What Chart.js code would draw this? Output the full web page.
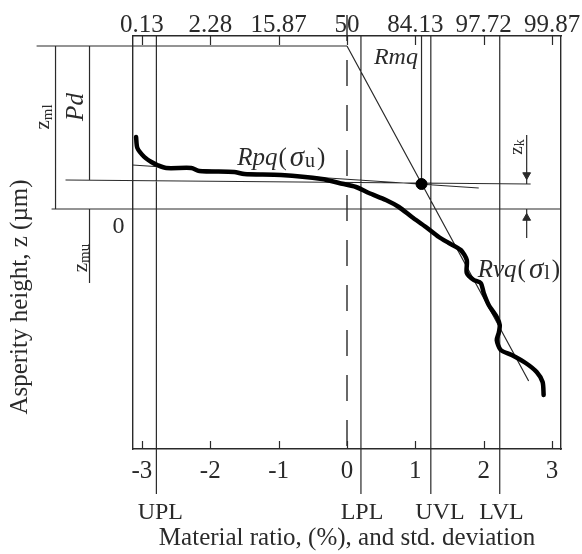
<!DOCTYPE html>
<html>
<head>
<meta charset="utf-8">
<script src="https://cdn.jsdelivr.net/npm/chart.js@4.4.1/dist/chart.umd.min.js"></script>
<style>
  html, body { margin: 0; padding: 0; background: #fff; }
</style>
</head>
<body>
<canvas id="mrChart" width="582" height="554"></canvas>
<script>
// std. deviation axis and matching material ratio (%) on top
const sdTicks = [-3, -2, -1, 0, 1, 2, 3];
const pctLabels = ['0.13', '2.28', '15.87', '50', '84.13', '97.72', '99.87'];

// bearing curve (x: std. deviation, z: height)
const curveX = [-3.085, -3.066, -2.964, -2.861, -2.774, -2.642, -2.277, -2.161, -1.650, -1.504,
  -0.964, -0.365, -0.117, 0.131, 0.321, 0.569, 0.759, 0.949, 1.153, 1.343,
  1.489, 1.664, 1.752, 1.752, 1.854, 1.956, 2.000, 2.073, 2.190, 2.234,
  2.219, 2.190, 2.248, 2.409, 2.613, 2.774, 2.861, 2.876];
const curveZ = [7.2, 6.1, 5.2, 4.7, 4.4, 4.1, 4.1, 3.8, 3.7, 3.5,
  3.4, 3.0, 2.6, 2.2, 1.6, 0.9, 0.2, -0.8, -1.8, -2.8,
  -3.4, -4.1, -5.1, -6.4, -7.1, -7.4, -8.4, -9.6, -10.8, -11.6,
  -12.4, -13.1, -14.1, -14.6, -15.4, -16.3, -17.3, -18.6];

// limit lines UPL, LPL, UVL, LVL
const limitNames = ['UPL', 'LPL', 'UVL', 'LVL'];
const limitX = [-2.788, 0.204, 1.226, 2.234];
const limitLabelX = [-2.73, 0.22, 1.36, 2.26];

// intersection of the two fitted lines
const knee = { x: 1.09, y: 2.5 };
const rmqLine = [{ x: 0, y: 16.3 }, { x: 2.657, y: -17.2 }];
const rpqLine = [{ x: -3.139, y: 4.4 }, { x: 1.927, y: 2.1 }];
const kneeLevel = [{ x: -4.117, y: 2.9 }, { x: 2.686, y: 2.5 }];
const zeroLine = [{ x: -4.321, y: 0 }, { x: 3.13, y: 0 }];
const topLine = [{ x: -4.54, y: 16.3 }, { x: 0, y: 16.3 }];
const kneeDrop = [{ x: 1.09, y: 17.3 }, { x: 1.09, y: 2.5 }];
const medianLine = [{ x: 0, y: 19.4 }, { x: 0, y: -24 }];

// dimension arrows (shaft ends) and their heads
const arrowShafts = [
  [{ x: -4.263, y: 16.3 }, { x: -4.263, y: 0 }],
  [{ x: -3.766, y: 16.3 }, { x: -3.766, y: 2.9 }],
  [{ x: -3.766, y: 0 }, { x: -3.766, y: -7.4 }],
  [{ x: 2.628, y: 7.4 }, { x: 2.628, y: 2.5 }],
  [{ x: 2.628, y: 0 }, { x: 2.628, y: -2.9 }]
];
const arrowHeads = [
  { x: -4.263, y: 15.1, r: 0 }, { x: -4.263, y: 1.2, r: 180 },
  { x: -3.766, y: 3.8, r: 180 }, { x: -3.766, y: -1.0, r: 0 },
  { x: 2.628, y: 3.4, r: 180 }, { x: 2.628, y: -0.9, r: 0 }
];

const serif = '"Liberation Serif", "Times New Roman", serif';
const ink = '#2a2a2a';

function joinSegments(segs) {
  const out = [];
  segs.forEach((s, i) => {
    if (i > 0) out.push({ x: s[0].x, y: null });
    out.push(s[0], s[1]);
  });
  return out;
}

const thinSegs = [rmqLine, rpqLine, kneeLevel, zeroLine, topLine, kneeDrop]
  .concat(limitX.map(v => [{ x: v, y: 17.3 }, { x: v, y: -28.5 }]))
  .concat(arrowShafts);

// text notes placed in data coordinates; parts = [text, style, size, dy, dx]
const notes = [
  { x: 0.715, y: 15.1, rot: 0, align: 'center', parts: [['Rmq', 'italic', 24, 0, 0]] },
  { x: -1.606, y: 5.1, rot: 0, align: 'left', parts: [['Rpq', 'italic', 25, 0, 0], ['(', '', 25, 0, 1], ['σ', 'italic', 29, 0, 3], ['u', '', 20, 4, 1], [')', '', 25, 0, 2]] },
  { x: 1.912, y: -6.1, rot: 0, align: 'left', parts: [['Rvq', 'italic', 25, 0, 0], ['(', '', 25, 0, 1], ['σ', 'italic', 29, 0, 3], ['l', '', 20, 4, 1], [')', '', 25, 0, 2]] },
  { x: -4.438, y: 9.2, rot: -90, align: 'center', parts: [['z', '', 21, 0, 0], ['ml', '', 15, 4, 0]] },
  { x: -3.956, y: 10.2, rot: -90, align: 'center', parts: [['Pd', 'italic', 25, 0, 0]] },
  { x: -3.883, y: -4.9, rot: -90, align: 'center', parts: [['z', '', 21, 0, 0], ['mu', '', 15, 4, 0]] },
  { x: -3.343, y: -1.8, rot: 0, align: 'center', parts: [['0', '', 24, 0, 0]] },
  { x: 2.482, y: 6.2, rot: -90, align: 'center', parts: [['z', '', 19, 0, 0], ['k', '', 14, 4, 0]] },
  { x: -4.774, y: -8.8, rot: -90, align: 'center', parts: [['Asperity height, z (µm)', '', 25, 0, 0]] }
].concat(limitNames.map((n, i) => ({ x: limitLabelX[i], y: -30.4, rot: 0, align: 'center', parts: [[n, '', 24, 0, 0]] })));

const notePlugin = {
  id: 'notes',
  afterDraw(chart) {
    const { ctx, scales: { x, y }, chartArea } = chart;
    ctx.save();
    // inward tick marks on bottom and top axes
    ctx.strokeStyle = ink;
    ctx.lineWidth = 1.2;
    sdTicks.forEach(v => {
      const px = Math.round(x.getPixelForValue(v)) + 0.5;
      ctx.beginPath();
      ctx.moveTo(px, chartArea.bottom);
      ctx.lineTo(px, chartArea.bottom - 8);
      ctx.moveTo(px, chartArea.top);
      ctx.lineTo(px, chartArea.top + 9);
      ctx.stroke();
    });
    ctx.fillStyle = ink;
    ctx.textBaseline = 'middle';
    ctx.textAlign = 'left';
    notes.forEach(n => {
      const fonts = n.parts.map(p => `${p[1]} ${p[2]}px ${serif}`.trim());
      let w = 0;
      n.parts.forEach((p, i) => { ctx.font = fonts[i]; w += ctx.measureText(p[0]).width + p[4]; });
      ctx.save();
      ctx.translate(x.getPixelForValue(n.x), y.getPixelForValue(n.y));
      ctx.rotate(n.rot * Math.PI / 180);
      let cx = n.align === 'center' ? -w / 2 : 0;
      n.parts.forEach((p, i) => {
        ctx.font = fonts[i];
        cx += p[4];
        ctx.fillText(p[0], cx, p[3]);
        cx += ctx.measureText(p[0]).width;
      });
      ctx.restore();
    });
    ctx.restore();
  }
};

// pin the plot box: 36 px above, 105 px below
const fitBottom = s => { s.paddingLeft = 0; s.paddingRight = 0; s.height = 105; };
const fitTop = s => { s.paddingLeft = 0; s.paddingRight = 0; s.height = 36; };

new Chart(document.getElementById('mrChart'), {
  type: 'line',
  data: {
    datasets: [
      {
        data: curveX.map((v, i) => ({ x: v, y: curveZ[i] })),
        borderColor: '#000', borderWidth: 4.5, pointRadius: 0, tension: 0.25,
        borderCapStyle: 'round', borderJoinStyle: 'round', clip: false
      },
      {
        type: 'scatter', data: [knee], pointRadius: 5.5,
        backgroundColor: '#000', borderColor: '#000', clip: false
      },
      {
        type: 'scatter',
        data: arrowHeads.map(a => ({ x: a.x, y: a.y })),
        pointStyle: 'triangle', pointRadius: 4.5,
        rotation: arrowHeads.map(a => a.r),
        backgroundColor: ink, borderColor: ink, borderWidth: 1, clip: false
      },
      {
        data: joinSegments(thinSegs),
        borderColor: ink, borderWidth: 1.2, pointRadius: 0, spanGaps: false, clip: false
      },
      {
        data: medianLine,
        borderColor: ink, borderWidth: 1.4, borderDash: [26, 19], pointRadius: 0, clip: false
      }
    ]
  },
  options: {
    responsive: false,
    animation: false,
    events: [],
    layout: { padding: { left: 133, right: 21, top: 0, bottom: 0 } },
    plugins: { legend: { display: false }, tooltip: { enabled: false } },
    scales: {
      x: {
        type: 'linear', position: 'bottom', min: -3.13, max: 3.13,
        afterBuildTicks: s => { s.ticks = sdTicks.map(v => ({ value: v })); },
        afterFit: fitBottom,
        grid: { display: false, drawTicks: false },
        border: { display: true, color: ink, width: 1.4 },
        ticks: { padding: 7, color: ink, font: { family: serif, size: 25 }, maxRotation: 0 },
        title: {
          display: true, text: 'Material ratio, (%), and std. deviation', color: ink,
          font: { family: serif, size: 25 }, padding: { top: 0, bottom: 1 }
        }
      },
      x2: {
        type: 'linear', position: 'top', min: -3.13, max: 3.13,
        afterBuildTicks: s => { s.ticks = sdTicks.map(v => ({ value: v })); },
        afterFit: fitTop,
        grid: { display: false, drawTicks: false },
        border: { display: true, color: ink, width: 1.4 },
        ticks: {
          padding: -2, color: ink, font: { family: serif, size: 25, lineHeight: 1 }, maxRotation: 0,
          callback: (v, i) => pctLabels[i]
        }
      },
      y: {
        type: 'linear', position: 'left', min: -24, max: 17.3,
        afterFit: s => { s.width = 0; },
        grid: { display: false, drawTicks: false },
        border: { display: true, color: ink, width: 1.4 },
        ticks: { display: false }
      },
      y2: {
        type: 'linear', position: 'right', min: -24, max: 17.3,
        afterFit: s => { s.width = 0; },
        grid: { display: false, drawTicks: false },
        border: { display: true, color: ink, width: 1.4 },
        ticks: { display: false }
      }
    }
  },
  plugins: [notePlugin]
});
</script>
</body>
</html>
